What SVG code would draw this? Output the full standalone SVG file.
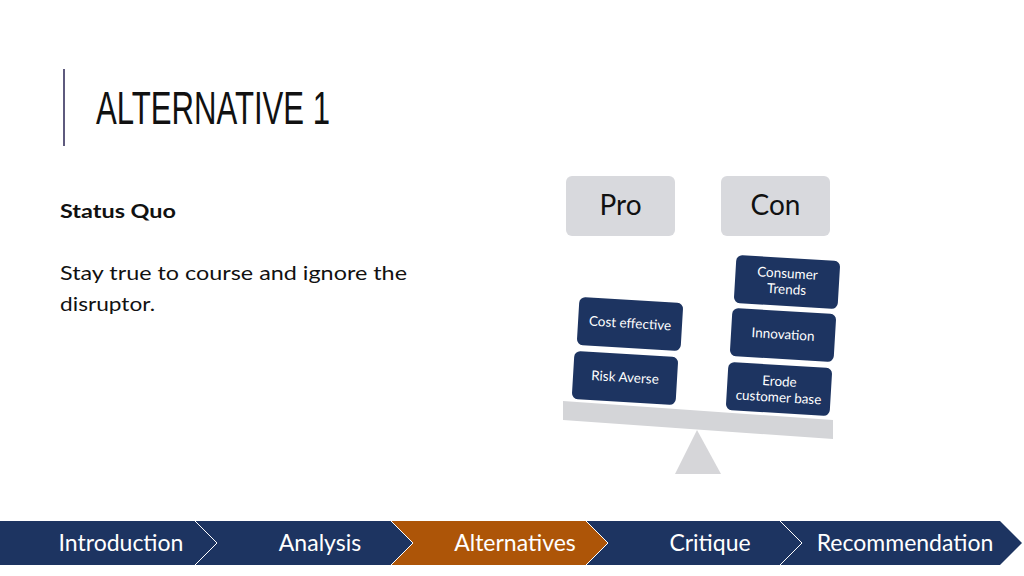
<svg xmlns="http://www.w3.org/2000/svg" width="1024" height="576" viewBox="0 0 1024 576">
<style>
.title{font-family:"Liberation Sans",Arial,sans-serif;font-size:46px;fill:#111}
.body{font-family:Lato,"Noto Sans",sans-serif;font-size:19px;fill:#111}
.hdr{font-family:Lato,"Noto Sans",sans-serif;font-size:28px;fill:#111;text-anchor:middle}
.card{fill:#1d3461}
.ct{font-family:Lato,"Noto Sans",sans-serif;font-size:13.5px;fill:#fff;text-anchor:middle}
.nav{font-family:Lato,"Noto Sans",sans-serif;font-size:23px;fill:#fff;text-anchor:middle}
.sep{fill:none;stroke:#fff;stroke-width:1}
</style>
<rect width="1024" height="576" fill="#fff"/>
<g id="title">
<line x1="64" y1="69" x2="64" y2="146" stroke="#5e5a7e" stroke-width="2"/>
<text class="title" x="96" y="124" textLength="234" lengthAdjust="spacingAndGlyphs">ALTERNATIVE 1</text>
</g>
<g id="left-text">
<text class="body" x="60" y="218" font-weight="bold" font-size="18" textLength="116" lengthAdjust="spacingAndGlyphs">Status Quo</text>
<text class="body" x="60" y="280" textLength="347" lengthAdjust="spacingAndGlyphs">Stay true to course and ignore the</text>
<text class="body" x="60" y="311" textLength="95" lengthAdjust="spacingAndGlyphs">disruptor.</text>
</g>
<g id="pro">
<rect x="566" y="176" width="109" height="60" rx="6" fill="#d8d9dd"/>
<text class="hdr" x="620.5" y="215">Pro</text>
</g>
<g id="con">
<rect x="721" y="176" width="109" height="60" rx="6" fill="#d8d9dd"/>
<text class="hdr" x="775.5" y="215">Con</text>
</g>
<g id="scale">
<polygon points="697,430 675,474 721,474" fill="#d6d6d9"/>
<polygon points="563,401 833,420 833,439 563,420" fill="#d4d5d8"/>
</g>
<g id="cost-effective" transform="translate(630,324) rotate(3.4)">
<rect class="card" x="-52" y="-24" width="104" height="48" rx="6"/>
<text class="ct" x="0" y="4">Cost effective</text>
</g>
<g id="risk-averse" transform="translate(625,378) rotate(3.4)">
<rect class="card" x="-52" y="-24" width="104" height="48" rx="6"/>
<text class="ct" x="0" y="4">Risk Averse</text>
</g>
<g id="consumer-trends" transform="translate(787,282) rotate(3.4)">
<rect class="card" x="-52" y="-24" width="104" height="48" rx="6"/>
<text class="ct" x="0" y="-4">Consumer</text>
<text class="ct" x="0" y="12">Trends</text>
</g>
<g id="innovation" transform="translate(783,335) rotate(3.4)">
<rect class="card" x="-52" y="-24" width="104" height="48" rx="6"/>
<text class="ct" x="0" y="4">Innovation</text>
</g>
<g id="erode" transform="translate(779,389) rotate(3.4)">
<rect class="card" x="-52" y="-24" width="104" height="48" rx="6"/>
<text class="ct" x="0" y="-3">Erode</text>
<text class="ct" x="0" y="13">customer base</text>
</g>
<g id="nav">
<polygon points="0,521 1000,521 1022,543 1000,565 0,565" fill="#1d3461"/>
<polygon points="391,521 586,521 608,543 586,565 391,565 413,543" fill="#ad5508"/>
<polyline class="sep" points="195,521 217,543 195,565"/>
<polyline class="sep" points="391,521 413,543 391,565"/>
<polyline class="sep" points="586,521 608,543 586,565"/>
<polyline class="sep" points="780,521 802,543 780,565"/>
<text class="nav" x="121" y="551">Introduction</text>
<text class="nav" x="320" y="551">Analysis</text>
<text class="nav" x="515" y="551">Alternatives</text>
<text class="nav" x="710" y="551">Critique</text>
<text class="nav" x="905" y="551">Recommendation</text>
</g>
</svg>
